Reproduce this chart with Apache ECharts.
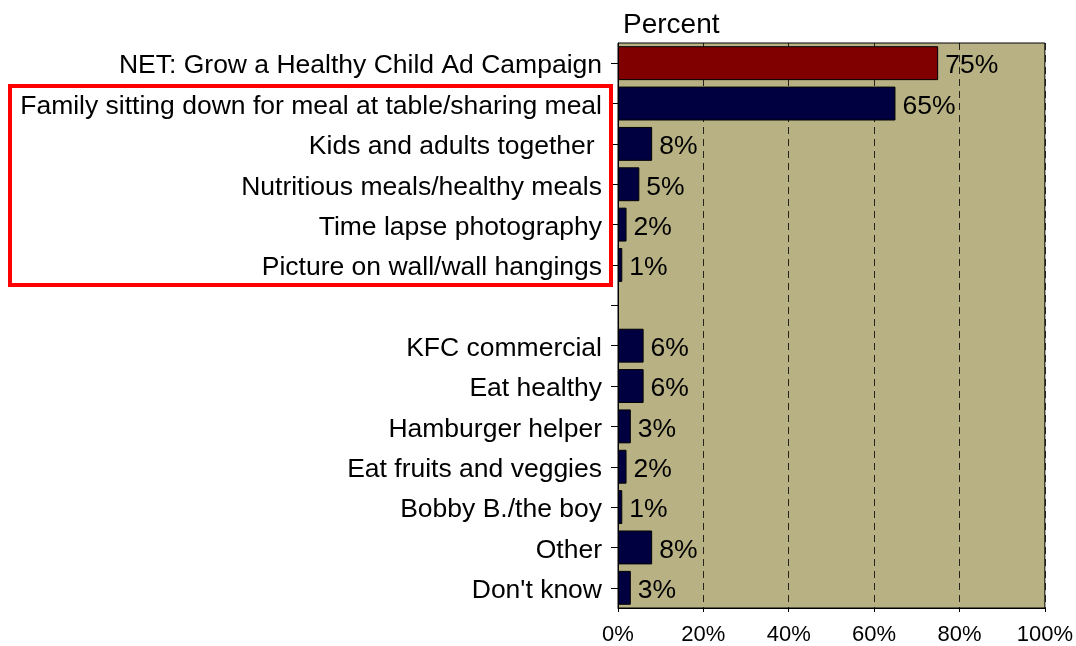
<!DOCTYPE html>
<html>
<head>
<meta charset="utf-8">
<script src="https://cdn.jsdelivr.net/npm/echarts@6/dist/echarts.min.js"></script>
<style>
  html, body { margin: 0; padding: 0; background: #ffffff; }
  #chart { width: 1076px; height: 646px; }
</style>
</head>
<body>
<div id="chart"></div>
<script>
// Ad recall responses, top to bottom; the blank row separates the two groups
const categories = [
  'NET: Grow a Healthy Child Ad Campaign',
  'Family sitting down for meal at table/sharing meal',
  'Kids and adults together ',
  'Nutritious meals/healthy meals',
  'Time lapse photography',
  'Picture on wall/wall hangings',
  '',
  'KFC commercial',
  'Eat healthy',
  'Hamburger helper',
  'Eat fruits and veggies',
  'Bobby B./the boy',
  'Other',
  "Don't know"
];
const values = [75, 65, 8, 5, 2, 1, null, 6, 6, 3, 2, 1, 8, 3];
const xTicks = [0, 20, 40, 60, 80, 100];

const NET_COLOR = '#800000';
const BAR_COLOR = '#000040';
const FONT = 'Liberation Sans, Arial, sans-serif';

const chart = echarts.init(document.getElementById('chart'));

const seriesData = values.map((v, i) => ({
  value: v,
  itemStyle: { color: i === 0 ? NET_COLOR : BAR_COLOR }
}));

chart.setOption({
  animation: false,
  textStyle: { fontFamily: FONT },
  title: {
    text: 'Percent',
    left: 618,
    top: 6,
    textStyle: { fontSize: 28, fontWeight: 'normal', color: '#000', fontFamily: FONT }
  },
  grid: {
    left: 618, right: 31, top: 43, bottom: 38,
    show: true,
    backgroundColor: '#b8b183',
    borderColor: '#000',
    borderWidth: 1
  },
  xAxis: {
    type: 'value',
    min: 0, max: 100, interval: 20,
    axisLine: { show: true, lineStyle: { color: '#000', width: 1 } },
    axisTick: { show: true, length: 4, lineStyle: { color: '#000' } },
    axisLabel: {
      color: '#000', fontSize: 22, margin: 16,
      formatter: v => xTicks.includes(v) ? v + '%' : ''
    },
    splitLine: {
      show: true,
      lineStyle: { color: '#000', type: [7, 5], width: 1, opacity: 0.8 }
    }
  },
  yAxis: {
    type: 'category',
    data: categories,
    inverse: true,
    axisLine: { show: true, lineStyle: { color: '#000', width: 1 } },
    axisTick: { show: true, alignWithLabel: true, length: 7, lineStyle: { color: '#000' } },
    axisLabel: {
      color: '#000', fontSize: 26.5, margin: 16, interval: 0,
      formatter: v => v ? '{c|' + v + '}' : '',
      rich: { c: { color: '#000', fontSize: 26.5, fontFamily: FONT, padding: [6, 0, 0, 0] } }
    },
    splitLine: { show: false }
  },
  series: [{
    type: 'bar',
    data: seriesData,
    barCategoryGap: '16%',
    itemStyle: { borderColor: '#000', borderWidth: 1 },
    label: {
      show: true,
      position: 'right',
      distance: 7,
      offset: [0, 3],
      color: '#000',
      fontSize: 26.5,
      formatter: p => p.value == null ? '' : p.value + '%'
    }
  }],
  graphic: [{
    type: 'rect',
    shape: { x: 10, y: 86, width: 601, height: 199 },
    style: { fill: 'none', stroke: '#ff0000', lineWidth: 4 },
    z: 100
  }]
});
</script>
</body>
</html>
